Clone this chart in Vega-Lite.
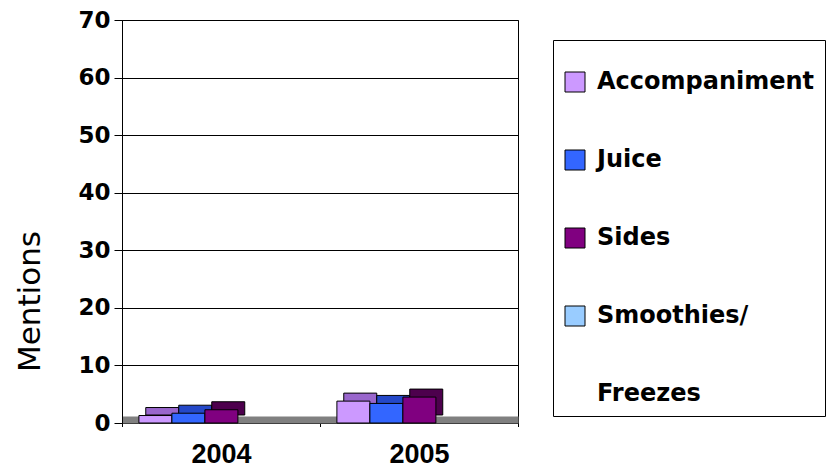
{
  "$schema": "https://vega.github.io/schema/vega-lite/v6.json",
  "width": 396,
  "height": 403,
  "autosize": {"type": "none"},
  "padding": {"left": 122, "top": 20, "right": 320, "bottom": 46},
  "background": "white",
  "config": {"view": {"stroke": "black", "strokeWidth": 1}, "font": "Liberation Sans"},
  "data": {
    "values": [
      {"year": "2004", "series": "Accompaniment", "value": 1.3},
      {"year": "2004", "series": "Juice", "value": 1.7},
      {"year": "2004", "series": "Sides", "value": 2.3},
      {"year": "2004", "series": "Smoothies/Freezes", "value": 0},
      {"year": "2005", "series": "Accompaniment", "value": 3.8},
      {"year": "2005", "series": "Juice", "value": 3.4},
      {"year": "2005", "series": "Sides", "value": 4.5},
      {"year": "2005", "series": "Smoothies/Freezes", "value": 0}
    ]
  },
  "encoding": {
    "x": {
      "field": "year",
      "type": "nominal",
      "scale": {"paddingInner": 0, "paddingOuter": 0},
      "axis": {
        "title": null,
        "labelAngle": 0,
        "tickBand": "extent",
        "tickSize": 7,
        "tickColor": "black",
        "domainColor": "#808080",
        "domainWidth": 7,
        "offset": -3.5,
        "labelFont": "Liberation Sans",
        "labelFontWeight": "bold",
        "labelFontSize": 27,
        "labelColor": "black",
        "labelPadding": 15,
        "zindex": 0
      }
    },
    "y": {
      "field": "value",
      "type": "quantitative",
      "scale": {"domain": [0, 70]},
      "axis": {
        "values": [0, 10, 20, 30, 40, 50, 60, 70],
        "grid": true,
        "gridColor": "black",
        "gridOpacity": 1,
        "gridWidth": 1,
        "domainColor": "black",
        "tickColor": "black",
        "tickSize": 8,
        "labelFont": "DejaVu Sans",
        "labelFontWeight": "bold",
        "labelFontSize": 23,
        "labelColor": "black",
        "labelPadding": 4,
        "title": "Mentions",
        "titleFont": "DejaVu Sans",
        "titleFontWeight": "normal",
        "titleFontSize": 31,
        "titleColor": "black",
        "titleAngle": -90,
        "titleX": -92,
        "titleY": 281,
        "titleAlign": "center",
        "titleBaseline": "middle",
        "zindex": 0
      }
    }
  },
  "layer": [
    {
      "mark": {"type": "bar", "yOffset": -8, "stroke": "black", "strokeWidth": 1},
      "encoding": {
        "xOffset": {
          "field": "series",
          "type": "nominal",
          "scale": {
            "domain": ["Accompaniment", "Juice", "Sides", "Smoothies/Freezes"],
            "paddingInner": 0,
            "paddingOuter": 1.3,
            "align": 0.36
          }
        },
        "color": {
          "field": "series",
          "type": "nominal",
          "scale": {
            "domain": ["Accompaniment", "Juice", "Sides", "Smoothies/Freezes"],
            "range": ["#9966CC", "#2448C8", "#4D004D", "#6F99C8"]
          },
          "legend": null
        },
        "strokeOpacity": {"condition": {"test": "datum.value === 0", "value": 0}, "value": 1}
      }
    },
    {
      "mark": {"type": "bar", "stroke": "black", "strokeWidth": 1},
      "encoding": {
        "xOffset": {
          "field": "series",
          "type": "nominal",
          "scale": {
            "domain": ["Accompaniment", "Juice", "Sides", "Smoothies/Freezes"],
            "paddingInner": 0,
            "paddingOuter": 1.3,
            "align": 0.256
          }
        },
        "color": {
          "field": "series",
          "type": "nominal",
          "scale": {
            "domain": ["Accompaniment", "Juice", "Sides", "Smoothies/Freezes", "Freezes"],
            "range": ["#CC99FF", "#3366FF", "#800080", "#99CCFF", "#FFFFFF"]
          },
          "legend": {
            "orient": "none",
            "legendX": 431,
            "legendY": 20,
            "title": " ",
            "titleFontSize": 12,
            "titlePadding": 8,
            "padding": 10,
            "strokeColor": "black",
            "fillColor": "white",
            "symbolType": "square",
            "symbolSize": 400,
            "symbolStrokeColor": "black",
            "symbolStrokeWidth": 1,
            "symbolOpacity": 1,
            "labelFont": "DejaVu Sans",
            "labelFontWeight": "bold",
            "labelFontSize": 24,
            "labelColor": "black",
            "labelLimit": 400,
            "labelOffset": 10,
            "rowPadding": 54,
            "labelExpr": "datum.label === 'Smoothies/Freezes' ? 'Smoothies/' : datum.label",
            "encode": {
              "symbols": {
                "update": {
                  "strokeOpacity": {"signal": "datum.value === 'Freezes' ? 0 : 1"}
                }
              }
            }
          }
        },
        "strokeOpacity": {"condition": {"test": "datum.value === 0", "value": 0}, "value": 1}
      }
    }
  ],
  "resolve": {"scale": {"color": "independent", "xOffset": "independent"}}
}
